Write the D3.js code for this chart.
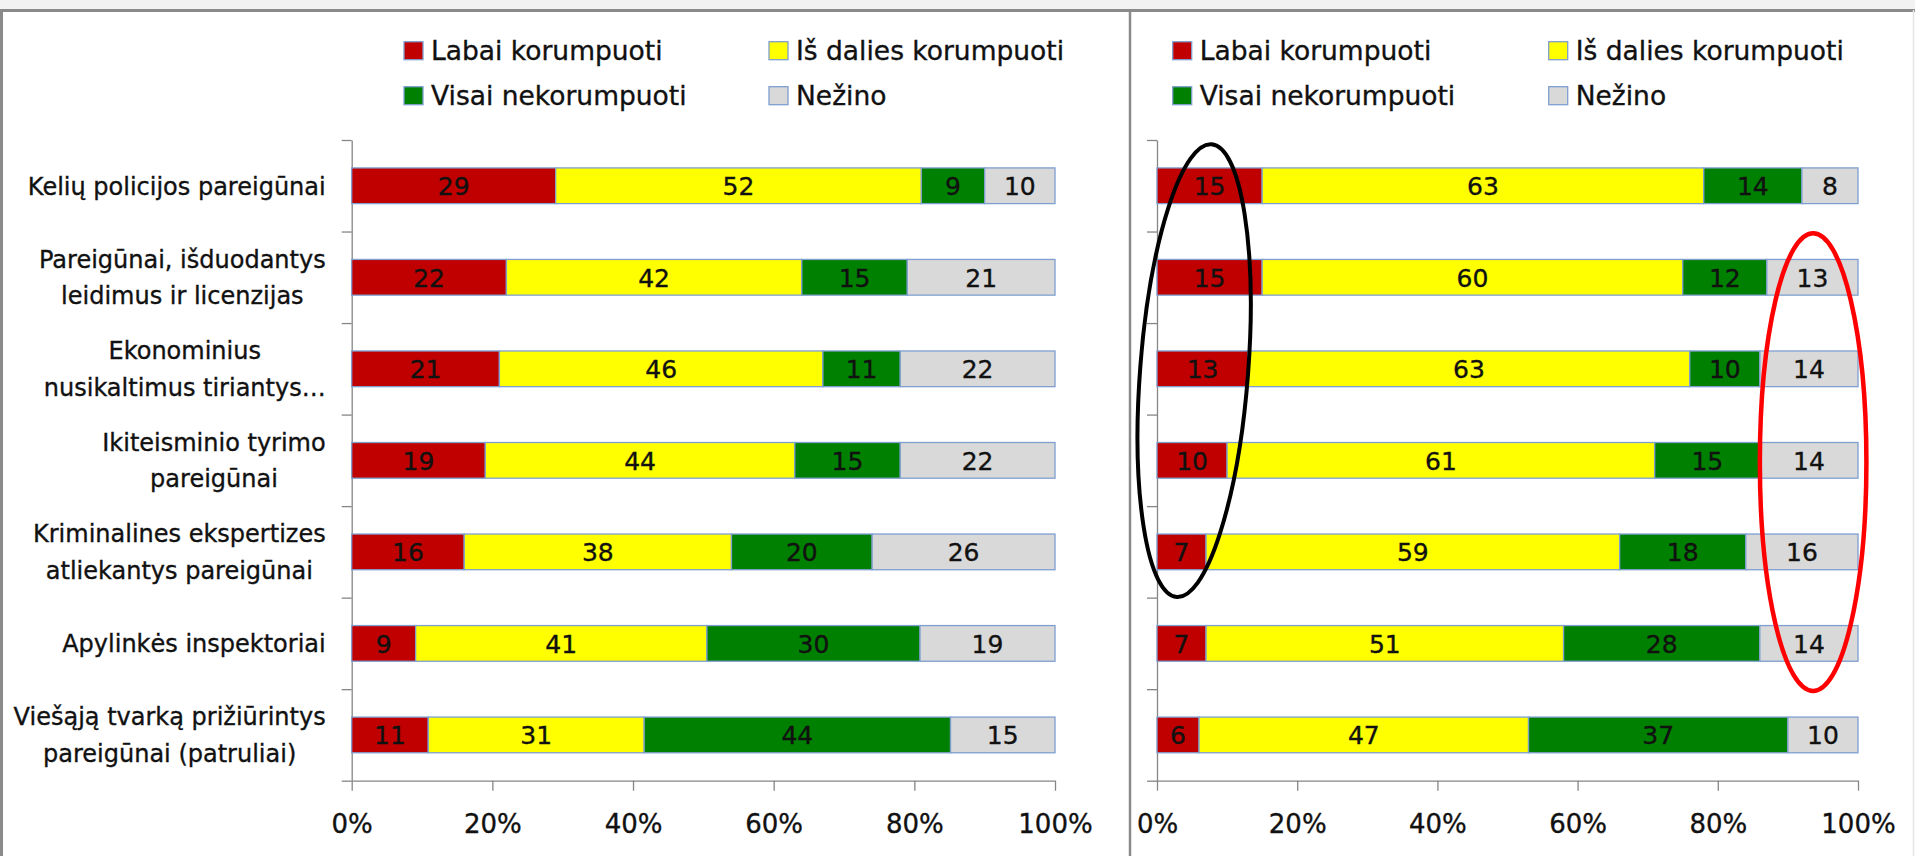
<!DOCTYPE html>
<html><head><meta charset="utf-8">
<script src="https://cdn.jsdelivr.net/npm/d3@7"></script>
<style>html,body{margin:0;padding:0;background:#fff;overflow:hidden}
text{stroke:#111;stroke-width:0.35px;}</style>
</head><body>
<svg id="c" width="1915" height="856"></svg>
<script>
const categories = [
  ["Kelių policijos pareigūnai"],
  ["Pareigūnai, išduodantys", "leidimus ir licenzijas"],
  ["Ekonominius", "nusikaltimus tiriantys…"],
  ["Ikiteisminio tyrimo", "pareigūnai"],
  ["Kriminalines ekspertizes", "atliekantys pareigūnai"],
  ["Apylinkės inspektoriai"],
  ["Viešąją tvarką prižiūrintys", "pareigūnai (patruliai)"]
];
const seriesNames = ["Labai korumpuoti", "Iš dalies korumpuoti", "Visai nekorumpuoti", "Nežino"];
const seriesColors = ["#c00000", "#ffff00", "#008000", "#d9d9d9"];

const leftLabai   = [29, 22, 21, 19, 16, 9, 11];
const leftIsDalies = [52, 42, 46, 44, 38, 41, 31];
const leftVisai   = [9, 15, 11, 15, 20, 30, 44];
const leftNezino  = [10, 21, 22, 22, 26, 19, 15];

const rightLabai   = [15, 15, 13, 10, 7, 7, 6];
const rightIsDalies = [63, 60, 63, 61, 59, 51, 47];
const rightVisai   = [14, 12, 10, 15, 18, 28, 37];
const rightNezino  = [8, 13, 14, 14, 16, 14, 10];

const tickValues = [0, 0.2, 0.4, 0.6, 0.8, 1];
const tickLabels = ["0%", "20%", "40%", "60%", "80%", "100%"];

const FONT = "'DejaVu Sans', sans-serif";
const AXIS = "#868686";
const BORDER = "#7f9fd0";

const svg = d3.select("#c");
svg.append("rect").attr("width", 1915).attr("height", 856).attr("fill", "#fff");
// window frame
svg.append("rect").attr("x", 0).attr("y", 0).attr("width", 1915).attr("height", 9).attr("fill", "#f2f2f2");
svg.append("line").attr("x1", 0).attr("x2", 1915).attr("y1", 10.5).attr("y2", 10.5).attr("stroke", "#8a8a8a").attr("stroke-width", 3);
svg.append("line").attr("x1", 1.5).attr("x2", 1.5).attr("y1", 10).attr("y2", 856).attr("stroke", "#8a8a8a").attr("stroke-width", 3);
svg.append("line").attr("x1", 1130).attr("x2", 1130).attr("y1", 10).attr("y2", 856).attr("stroke", "#8a8a8a").attr("stroke-width", 2.5);
svg.append("line").attr("x1", 1913.5).attr("x2", 1913.5).attr("y1", 10).attr("y2", 856).attr("stroke", "#e6e6e6").attr("stroke-width", 1.5);

const yTop = 140, yBot = 780.7;
const yBand = d3.scaleBand().domain(d3.range(categories.length)).range([yTop, yBot]).paddingInner(0.61).paddingOuter(0.305);
const yLin = d3.scaleLinear().domain([0, categories.length]).range([yTop, yBot]);

function drawPanel(cfg) {
  const x = d3.scaleLinear().domain([0, 1]).range([cfg.x0, cfg.x1]);
  const rows = categories.map((c, i) => ({ i, v: cfg.series.map(s => s[i]) }));
  const stack = d3.stack().keys([0, 1, 2, 3]).value((d, k) => d.v[k]).offset(d3.stackOffsetExpand);
  const layers = stack(rows);

  const g = svg.append("g");

  // y axis (ticks at band boundaries)
  const ya = g.append("g").attr("transform", `translate(${cfg.x0},0)`)
    .call(d3.axisLeft(yLin).tickValues(d3.range(categories.length + 1)).tickFormat("").tickSizeInner(10).tickSizeOuter(0));
  ya.selectAll("path,line").attr("stroke", AXIS).attr("stroke-width", 1.3);

  // x axis
  const xa = g.append("g").attr("transform", `translate(0,${yBot})`)
    .call(d3.axisBottom(x).tickValues(tickValues).tickFormat((d, i) => tickLabels[i]).tickSizeInner(10).tickSizeOuter(0));
  xa.selectAll("path,line").attr("stroke", AXIS).attr("stroke-width", 1.3);
  xa.selectAll("text").attr("y", 52).attr("dy", 0).attr("fill", "#111")
    .style("font-family", FONT).style("font-size", "26px");

  // bars
  layers.forEach((layer, k) => {
    g.append("g").selectAll("rect").data(layer).join("rect")
      .attr("x", d => x(d[0]))
      .attr("y", d => yBand(d.data.i))
      .attr("width", d => x(d[1]) - x(d[0]))
      .attr("height", yBand.bandwidth())
      .attr("fill", seriesColors[k])
      .attr("stroke", BORDER).attr("stroke-width", 1.3);
    g.append("g").selectAll("text").data(layer).join("text")
      .attr("x", d => (x(d[0]) + x(d[1])) / 2)
      .attr("y", d => yBand(d.data.i) + yBand.bandwidth() / 2 + 9.5)
      .attr("text-anchor", "middle")
      .style("font-family", FONT).style("font-size", "25px").attr("fill", "#111")
      .text(d => d.data.v[k]);
  });

  // category labels
  if (cfg.showLabels) {
    const right = cfg.x0 - 26;
    categories.forEach((lines, i) => {
      const cy = yBand(i) + yBand.bandwidth() / 2;
      const tg = g.append("g");
      const texts = lines.map((ln, j) => tg.append("text")
        .attr("y", cy + 8.75 + (j - (lines.length - 1) / 2) * 36.6)
        .attr("text-anchor", "middle")
        .style("font-family", FONT).style("font-size", "24px").attr("fill", "#111")
        .text(ln));
      const maxW = d3.max(texts, t => t.node().getComputedTextLength());
      texts.forEach(t => t.attr("x", right - maxW / 2));
    });
  }

  // legend
  const lg = g.append("g");
  seriesNames.forEach((name, k) => {
    const col = k % 2, row = Math.floor(k / 2);
    const sx = cfg.legX + col * cfg.legCol;
    const sy = 41.7 + row * 45;
    lg.append("rect").attr("x", sx).attr("y", sy).attr("width", 19).attr("height", 18)
      .attr("fill", seriesColors[k]).attr("stroke", BORDER).attr("stroke-width", 1.3);
    lg.append("text").attr("x", sx + 27).attr("y", sy + 18.3)
      .style("font-family", FONT).style("font-size", "26.5px").attr("fill", "#111")
      .text(name);
  });
  return x;
}

drawPanel({ x0: 351.7, x1: 1055, series: [leftLabai, leftIsDalies, leftVisai, leftNezino], showLabels: true, legX: 404, legCol: 365 });
const xR = drawPanel({ x0: 1157, x1: 1858, series: [rightLabai, rightIsDalies, rightVisai, rightNezino], showLabels: false, legX: 1172.7, legCol: 376 });

// annotation ellipses
function ellipse(cxv, cyv, rxv, ryv, rot, color, sw) {
  const cx = xR(cxv), cy = yLin(cyv);
  svg.append("ellipse").attr("cx", 0).attr("cy", 0)
    .attr("rx", xR(rxv) - xR(0)).attr("ry", yLin(ryv) - yLin(0))
    .attr("transform", `translate(${cx},${cy}) rotate(${rot})`)
    .attr("fill", "none").attr("stroke", color).attr("stroke-width", sw);
}
ellipse(0.053, 2.52, 0.077, 2.48, 4.4, "#000", 4);
ellipse(0.936, 3.52, 0.076, 2.50, 0, "#ff0000", 4.5);
</script>
</body></html>
